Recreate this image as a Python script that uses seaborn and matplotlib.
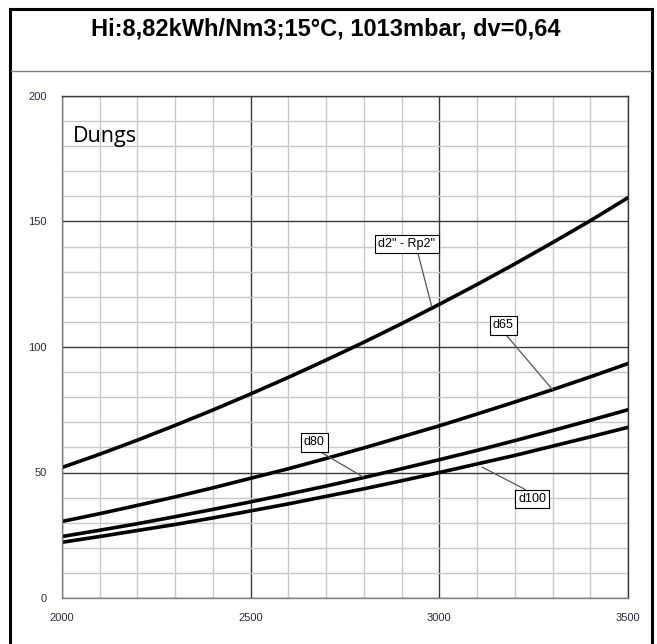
import matplotlib
matplotlib.use("Agg")
import matplotlib.pyplot as plt
import seaborn as sns
import pandas as pd
from matplotlib.patches import Rectangle
from matplotlib.ticker import MultipleLocator

# flow values (x) and pressure drop curves
flow = [2000, 2100, 2200, 2300, 2400, 2500, 2600, 2700, 2800, 2900,
        3000, 3100, 3200, 3300, 3400, 3500]
d2_rp2 = [52.0, 57.3, 62.9, 68.8, 74.9, 81.3, 87.9, 94.8, 101.9, 109.3,
          117.0, 124.9, 133.1, 141.6, 150.3, 159.5]
d65 = [30.5, 33.6, 36.9, 40.3, 43.9, 47.7, 51.5, 55.6, 59.8, 64.2,
       68.6, 73.3, 78.1, 83.0, 88.1, 93.4]
d80 = [24.5, 27.0, 29.6, 32.4, 35.3, 38.3, 41.4, 44.6, 48.0, 51.5,
       55.1, 58.8, 62.7, 66.7, 70.8, 75.0]
d100 = [22.2, 24.5, 26.9, 29.3, 31.9, 34.7, 37.5, 40.5, 43.5, 46.7,
        50.0, 53.4, 56.8, 60.5, 64.2, 68.0]
series_names = ['d2" - Rp2"', "d65", "d80", "d100"]

x_ticks = [2000, 2500, 3000, 3500]
y_ticks = [0, 50, 100, 150, 200]
title = "Hi:8,82kWh/Nm3;15°C, 1013mbar, dv=0,64"

rows = []
for name, vals in zip(series_names, [d2_rp2, d65, d80, d100]):
    for q, p in zip(flow, vals):
        rows.append({"flow": q, "dp": p, "curve": name})
df = pd.DataFrame(rows)

sns.set_style("white")
plt.rcParams["font.family"] = ["Liberation Sans", "DejaVu Sans"]

fig = plt.figure(figsize=(6.57, 6.44), dpi=100)
ax = fig.add_axes([62 / 657, 1 - 598 / 644, 566 / 657, 502 / 644])

# grid: minor light, major dark
ax.set_xlim(2000, 3500)
ax.set_ylim(0, 200)
ax.xaxis.set_major_locator(MultipleLocator(500))
ax.xaxis.set_minor_locator(MultipleLocator(100))
ax.yaxis.set_major_locator(MultipleLocator(50))
ax.yaxis.set_minor_locator(MultipleLocator(10))
ax.grid(which="minor", color="#c8c8c8", lw=1.0)
ax.grid(which="major", color="#3a3a3a", lw=1.0)
ax.set_axisbelow(True)

sns.lineplot(data=df, x="flow", y="dp", hue="curve", palette=["black"] * 4,
             lw=2.6, legend=False, ax=ax)

ax.set_xticks(x_ticks)
ax.set_yticks(y_ticks)
ax.tick_params(which="major", length=5, width=0.8, color="#808080",
               labelsize=8, labelcolor="#2a2a40", pad=6)
ax.tick_params(which="minor", length=0)
ax.set_xlabel("")
ax.set_ylabel("")
for side in ["left", "bottom"]:
    ax.spines[side].set_color("#808080")
    ax.spines[side].set_linewidth(1.0)
for side in ["top", "right"]:
    ax.spines[side].set_color("#3a3a3a")
    ax.spines[side].set_linewidth(1.0)

ax.text(2029, 184, "Dungs", fontsize=15.5, family=["Open Sans", "DejaVu Sans"],
        va="center", ha="left", color="black")

box = dict(boxstyle="square,pad=0.25", fc="white", ec="black", lw=0.8)
labels = [
    ('d2" - Rp2"', (2914, 141), (2980, 116), (0.68, 0)),
    ("d65", (3169, 108.6), (3300, 83), (0.5, 0)),
    ("d80", (2669, 62), (2798, 48.2), (0.5, 0)),
    ("d100", (3246, 39.4), (3113, 52.2), (0.5, 1)),
]
for txt, pos, tip, rel in labels:
    ax.annotate(txt, xy=tip, xytext=pos, fontsize=9, ha="center", va="center",
                color="black", bbox=box,
                arrowprops=dict(arrowstyle="-", color="#555555", lw=0.9,
                                shrinkA=0, shrinkB=0, relpos=rel))

# outer frame and title area
fig.patches.append(Rectangle((10 / 657, -0.01), 642 / 657, 1 - 9 / 644 + 0.01,
                             transform=fig.transFigure, fill=False,
                             ec="black", lw=2.2))
fig.lines.append(plt.Line2D([11 / 657, 651 / 657], [1 - 71 / 644] * 2,
                            transform=fig.transFigure, color="#808080", lw=1.0))
fig.text(326 / 657, 1 - 29 / 644, title, ha="center", va="center",
         fontsize=17, fontweight="bold", color="black")

fig.savefig("out.png", dpi=100)
